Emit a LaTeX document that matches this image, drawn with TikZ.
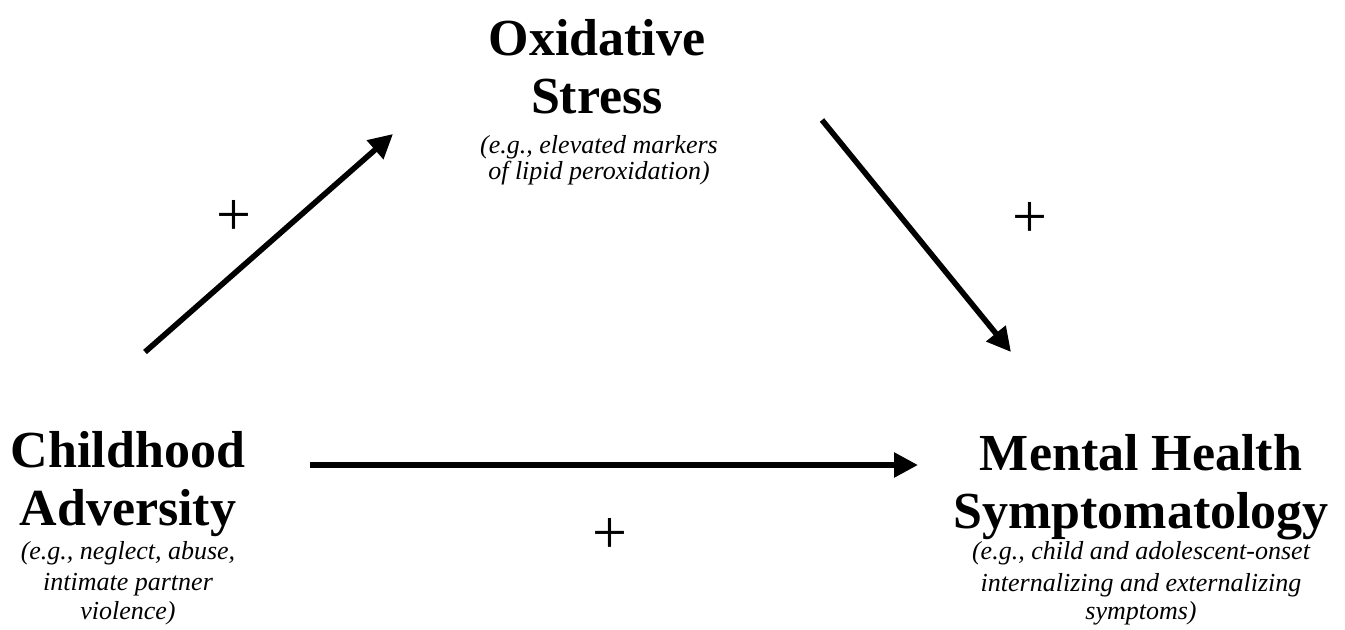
\documentclass[tikz,border=0pt]{standalone}
\usepackage{fontspec}
\setmainfont{Liberation Serif}
\usetikzlibrary{arrows.meta}
\tikzset{
  ttl/.style={anchor=base, inner sep=0pt, font=\fontsize{26}{29}\selectfont\bfseries},
  sub/.style={anchor=base, inner sep=0pt, font=\fontsize{13}{15}\selectfont\itshape},
  plus/.style={anchor=center, inner sep=0pt, font=\fontsize{31}{31}\selectfont},
  link/.style={line width=2.8pt, -{Triangle[length=12pt,width=12pt]}}
}
\begin{document}
\begin{tikzpicture}[x=0.5pt, y=-0.5pt]
\useasboundingbox (0,0) rectangle (1345,629);
% Oxidative Stress
\node[ttl] (ox1) at (597,55) {Oxidative};
\node[ttl] (ox2) at (597,113) {Stress};
\node[sub] (oxs1) at (599,153) {(e.g., elevated markers};
\node[sub] (oxs2) at (599,179) {of lipid peroxidation)};
% Childhood Adversity
\node[ttl] (ca1) at (128,467) {Childhood};
\node[ttl] (ca2) at (128,525) {Adversity};
\node[sub] (cas1) at (128,559) {(e.g., neglect, abuse,};
\node[sub] (cas2) at (128,590) {intimate partner};
\node[sub] (cas3) at (128,619) {violence)};
% Mental Health Symptomatology
\node[ttl] (mh1) at (1141,470) {Mental Health};
\node[ttl] (mh2) at (1141,528) {Symptomatology};
\node[sub] (mhs1) at (1141,559) {(e.g., child and adolescent-onset};
\node[sub] (mhs2) at (1141,591) {internalizing and externalizing};
\node[sub] (mhs3) at (1141,619) {symptoms)};
% arrow endpoints
\coordinate (a1s) at (145,352);
\coordinate (a1e) at (393,134);
\coordinate (a2s) at (822,120);
\coordinate (a2e) at (1011,352);
\coordinate (a3s) at (310,465);
\coordinate (a3e) at (918,465);
\draw[link] (a1s) -- (a1e);
\draw[link] (a2s) -- (a2e);
\draw[link] (a3s) -- (a3e);
% plus signs
\node[plus] (p1) at (234,218) {+};
\node[plus] (p2) at (1030,220) {+};
\node[plus] (p3) at (610,536) {+};
\end{tikzpicture}
\end{document}
